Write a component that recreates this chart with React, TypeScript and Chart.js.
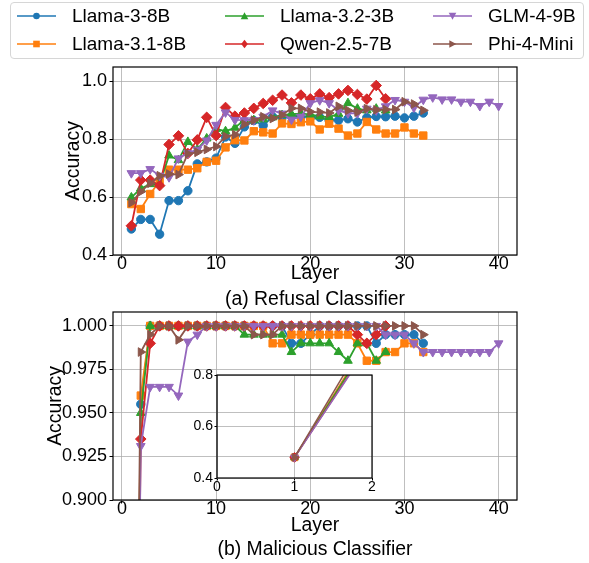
import React, { useEffect, useRef } from "react";
import { Chart, registerables } from "chart.js";
Chart.register(...registerables);

const FONT = "'Liberation Sans', Arial, sans-serif";

const models = ["Llama-3-8B", "Llama-3.1-8B", "Llama-3.2-3B", "Qwen-2.5-7B", "GLM-4-9B", "Phi-4-Mini"];
const colors = ["#1f77b4", "#ff7f0e", "#2ca02c", "#d62728", "#9467bd", "#8c564b"];

const xTicks = [0, 10, 20, 30, 40];
const refusalYTicks = [0.4, 0.6, 0.8, 1.0];
const maliciousYTicks = [0.9, 0.925, 0.95, 0.975, 1.0];
const insetXTicks = [0, 1, 2];
const insetYTicks = [0.4, 0.6, 0.8];

// (a) Refusal classifier accuracy per layer
const refusalLlama3 = [0.49, 0.523, 0.523, 0.472, 0.588, 0.588, 0.622, 0.715, 0.722, 0.735, 0.808, 0.786, 0.843, 0.865, 0.848, 0.878, 0.875, 0.878, 0.88, 0.875, 0.876, 0.866, 0.866, 0.871, 0.86, 0.875, 0.879, 0.878, 0.88, 0.874, 0.88, 0.891];
const refusalLlama31 = [0.576, 0.559, 0.611, 0.655, 0.695, 0.695, 0.695, 0.70, 0.722, 0.726, 0.772, 0.797, 0.796, 0.828, 0.824, 0.82, 0.855, 0.853, 0.859, 0.862, 0.834, 0.854, 0.837, 0.813, 0.82, 0.86, 0.834, 0.82, 0.82, 0.841, 0.82, 0.813];
const refusalLlama32 = [0.599, 0.63, 0.645, 0.645, 0.744, 0.728, 0.791, 0.765, 0.803, 0.836, 0.828, 0.84, 0.867, 0.866, 0.869, 0.876, 0.884, 0.887, 0.889, 0.886, 0.879, 0.877, 0.888, 0.925, 0.906, 0.90, 0.906, 0.90];
const refusalQwen = [0.501, 0.659, 0.659, 0.64, 0.782, 0.812, 0.751, 0.798, 0.876, 0.813, 0.91, 0.88, 0.891, 0.907, 0.924, 0.935, 0.953, 0.926, 0.953, 0.94, 0.957, 0.944, 0.957, 0.969, 0.955, 0.939, 0.986, 0.94];
const refusalGLM = [0.683, 0.683, 0.697, 0.674, 0.669, 0.734, 0.752, 0.764, 0.796, 0.85, 0.893, 0.867, 0.866, 0.866, 0.878, 0.9, 0.889, 0.868, 0.878, 0.925, 0.935, 0.925, 0.9, 0.89, 0.89, 0.906, 0.9, 0.914, 0.936, 0.93, 0.91, 0.937, 0.945, 0.938, 0.938, 0.93, 0.93, 0.915, 0.93, 0.915];
const refusalPhi = [0.581, 0.619, 0.648, 0.674, 0.68, 0.678, 0.75, 0.755, 0.765, 0.775, 0.81, 0.816, 0.852, 0.866, 0.878, 0.872, 0.884, 0.907, 0.907, 0.895, 0.894, 0.891, 0.914, 0.9, 0.894, 0.906, 0.902, 0.903, 0.903, 0.93, 0.922, 0.9];

// (b) Malicious classifier accuracy per layer
const maliciousLlama3 = [0.48, 0.955, 1.0, 1.0, 1.0, 1.0, 1.0, 1.0, 1.0, 1.0, 1.0, 1.0, 1.0, 1.0, 1.0, 1.0, 1.0, 0.99, 0.99, 0.995, 1.0, 1.0, 1.0, 1.0, 1.0, 1.0, 0.99, 0.995, 0.995, 0.995, 0.995, 0.99];
const maliciousLlama31 = [0.48, 0.96, 1.0, 1.0, 1.0, 1.0, 1.0, 1.0, 1.0, 1.0, 1.0, 1.0, 1.0, 1.0, 1.0, 0.99, 0.99, 0.995, 0.995, 0.995, 0.995, 0.995, 0.995, 0.995, 0.99, 0.98, 0.98, 0.985, 0.985, 0.99, 0.99, 0.985];
const maliciousLlama32 = [0.48, 0.95, 1.0, 1.0, 1.0, 1.0, 1.0, 1.0, 1.0, 1.0, 1.0, 1.0, 0.995, 0.995, 0.995, 0.995, 0.995, 0.985, 0.99, 0.99, 0.99, 0.99, 0.985, 0.98, 0.99, 0.99, 0.98, 0.985];
const maliciousQwen = [0.48, 0.935, 0.99, 1.0, 1.0, 1.0, 1.0, 1.0, 1.0, 1.0, 1.0, 1.0, 1.0, 1.0, 1.0, 1.0, 1.0, 1.0, 1.0, 1.0, 1.0, 1.0, 1.0, 1.0, 0.995, 0.99, 0.995, 1.0];
const maliciousGLM = [0.48, 0.931, 0.965, 0.965, 0.965, 0.96, 0.991, 0.995, 1.0, 1.0, 1.0, 1.0, 1.0, 1.0, 1.0, 1.0, 1.0, 1.0, 1.0, 1.0, 1.0, 1.0, 1.0, 1.0, 1.0, 1.0, 1.0, 0.995, 0.995, 0.995, 0.99, 0.985, 0.985, 0.985, 0.985, 0.985, 0.985, 0.985, 0.985, 0.99];
const maliciousPhi = [0.48, 0.985, 0.995, 1.0, 1.0, 0.992, 1.0, 1.0, 1.0, 1.0, 1.0, 1.0, 1.0, 0.995, 0.995, 0.995, 1.0, 1.0, 1.0, 1.0, 1.0, 1.0, 1.0, 1.0, 1.0, 1.0, 1.0, 1.0, 1.0, 1.0, 1.0, 0.995];

const refusalSeries = [refusalLlama3, refusalLlama31, refusalLlama32, refusalQwen, refusalGLM, refusalPhi];
const maliciousSeries = [maliciousLlama3, maliciousLlama31, maliciousLlama32, maliciousQwen, maliciousGLM, maliciousPhi];

const pointStyles = ["circle", "rect", "triangle", "rectRot", "triangle", "triangle"];
const pointRotations = [0, 0, 0, 0, 180, 90];
const pointRadii = [4.2, 5.2, 5, 5.3, 5, 5];

const GRID = "rgba(170,170,170,0.75)";

function makeDatasets(series: number[][], lw: number, scale: number) {
  return series.map((vals, i) => ({
    label: models[i],
    data: vals.map((v, j) => ({ x: j + 1, y: v })),
    borderColor: colors[i],
    backgroundColor: colors[i],
    pointBackgroundColor: colors[i],
    pointBorderColor: colors[i],
    pointStyle: pointStyles[i],
    pointRotation: pointRotations[i],
    pointRadius: pointRadii[i] * scale,
    pointBorderWidth: 1,
    borderWidth: lw,
    tension: 0,
    order: series.length - i,
  }));
}

function axis(o: any) {
  return {
    type: "linear",
    min: o.min,
    max: o.max,
    afterBuildTicks: (s: any) => {
      s.ticks = o.ticks.map((v: number) => ({ value: v }));
    },
    afterFit: (s: any) => {
      if (o.width !== undefined) s.width = o.width;
      if (o.height !== undefined) s.height = o.height;
    },
    ticks: {
      autoSkip: false,
      maxRotation: 0,
      color: "#000",
      padding: o.pad,
      font: { family: FONT, size: o.fontSize, lineHeight: o.lh ?? 1.2 },
      callback: (v: any) => Number(v).toFixed(o.dec),
    },
    grid: {
      display: true,
      color: GRID,
      lineWidth: 1,
      borderDash: [1.5, 2],
      drawTicks: true,
      tickLength: o.tl,
      tickColor: "#000",
      tickWidth: 1,
      tickBorderDash: [],
    },
    border: { display: false },
    title: o.title
      ? {
          display: true,
          text: o.title,
          color: "#000",
          font: { family: FONT, size: 19.4, lineHeight: o.titleLh ?? 1.2 },
          padding: o.titlePad,
        }
      : { display: false },
  };
}

const framePlugin = {
  id: "frame",
  afterDatasetsDraw(chart: any) {
    const { ctx, chartArea: a } = chart;
    ctx.save();
    ctx.strokeStyle = "#000";
    ctx.lineWidth = 1.2;
    ctx.setLineDash([]);
    ctx.strokeRect(a.left, a.top, a.right - a.left, a.bottom - a.top);
    ctx.restore();
  },
};

function baseOptions(padding: any, scales: any) {
  return {
    responsive: false,
    animation: false,
    devicePixelRatio: 1,
    events: [],
    layout: { padding },
    plugins: { legend: { display: false }, tooltip: { enabled: false }, title: { display: false } },
    scales,
  };
}

function LegendMarker({ i }: { i: number }) {
  const c = colors[i];
  const cx = 19.5;
  const cy = 10;
  let shape: any = null;
  if (i === 0) shape = <circle cx={cx} cy={cy} r={3.3} fill={c} />;
  if (i === 1) shape = <rect x={cx - 3.3} y={cy - 3.3} width={6.6} height={6.6} fill={c} />;
  if (i === 2) shape = <polygon points={`${cx},${cy - 3.8} ${cx - 3.8},${cy + 3.2} ${cx + 3.8},${cy + 3.2}`} fill={c} />;
  if (i === 3) shape = <polygon points={`${cx},${cy - 4.3} ${cx + 3.3},${cy} ${cx},${cy + 4.3} ${cx - 3.3},${cy}`} fill={c} />;
  if (i === 4) shape = <polygon points={`${cx},${cy + 3.8} ${cx - 3.8},${cy - 3.2} ${cx + 3.8},${cy - 3.2}`} fill={c} />;
  if (i === 5) shape = <polygon points={`${cx + 3.8},${cy} ${cx - 3.2},${cy - 3.8} ${cx - 3.2},${cy + 3.8}`} fill={c} />;
  return (
    <svg width={40} height={20} style={{ position: "absolute", left: 0, top: 0 }}>
      <line x1={0} y1={cy} x2={39} y2={cy} stroke={c} strokeWidth={1.6} />
      {shape}
    </svg>
  );
}

const legendColX = [17, 225, 433];
const legendRowY = [16, 44];

export default function App() {
  const topRef = useRef<HTMLCanvasElement>(null);
  const botRef = useRef<HTMLCanvasElement>(null);
  const insRef = useRef<HTMLCanvasElement>(null);

  useEffect(() => {
    const top = new Chart(topRef.current as HTMLCanvasElement, {
      type: "line",
      data: { datasets: makeDatasets(refusalSeries, 1.8, 1) as any },
      options: baseOptions(
        { top: 67, left: 0, right: 72, bottom: 250 },
        {
          x: axis({ min: -0.95, max: 41.95, ticks: xTicks, height: 58, pad: 0, tl: 3.5, fontSize: 18, lh: 0.6, dec: 0,
            title: ["Layer", "(a) Refusal Classifier"], titleLh: 1.34, titlePad: { top: 0, bottom: 0 } }),
          y: axis({ min: 0.4, max: 1.05, ticks: refusalYTicks, width: 113, pad: 2.5, tl: 3.5, fontSize: 18, dec: 1,
            title: "Accuracy", titlePad: { top: 62, bottom: 0 } }),
        }
      ) as any,
      plugins: [framePlugin],
    });
    const bot = new Chart(botRef.current as HTMLCanvasElement, {
      type: "line",
      data: { datasets: makeDatasets(maliciousSeries, 1.8, 1) as any },
      options: baseOptions(
        { top: 312, left: 0, right: 72, bottom: 0 },
        {
          x: axis({ min: -0.95, max: 41.95, ticks: xTicks, height: 63, pad: 0, tl: 3.5, fontSize: 18, lh: 0.6, dec: 0,
            title: ["Layer", "(b) Malicious Classifier"], titleLh: 1.2, titlePad: { top: 0, bottom: 2 } }),
          y: axis({ min: 0.9, max: 1.008, ticks: maliciousYTicks, width: 113, pad: 2.5, tl: 3.5, fontSize: 18, dec: 3,
            title: "Accuracy", titlePad: { top: 44, bottom: 0 } }),
        }
      ) as any,
      plugins: [framePlugin],
    });
    const ins = new Chart(insRef.current as HTMLCanvasElement, {
      type: "line",
      data: { datasets: makeDatasets(maliciousSeries, 1.5, 0.9) as any },
      options: baseOptions(
        { top: 375, left: 0, right: 217, bottom: 60 },
        {
          x: axis({ min: 0, max: 2, ticks: insetXTicks, height: 25, pad: 2, tl: 2.5, fontSize: 14, lh: 0.6, dec: 0 }),
          y: axis({ min: 0.4, max: 0.8, ticks: insetYTicks, width: 217, pad: 1.5, tl: 2.5, fontSize: 14, dec: 1 }),
        }
      ) as any,
      plugins: [framePlugin],
    });
    return () => {
      top.destroy();
      bot.destroy();
      ins.destroy();
    };
  }, []);

  const canvasStyle: any = { position: "absolute", left: 0, top: 0, width: 589, height: 563 };

  return (
    <div style={{ position: "fixed", left: 0, top: 0, width: 589, height: 563, background: "#fff", fontFamily: FONT, overflow: "hidden" }}>
      <canvas ref={topRef} width={589} height={563} style={canvasStyle} />
      <canvas ref={botRef} width={589} height={563} style={canvasStyle} />
      <canvas ref={insRef} width={589} height={563} style={canvasStyle} />
      <div
        style={{
          position: "absolute",
          left: 10,
          top: 2,
          width: 574,
          height: 57,
          boxSizing: "border-box",
          border: "1px solid #d6d6d6",
          borderRadius: 4,
          background: "rgba(255,255,255,0.8)",
        }}
      />
      {models.map((m, i) => {
        const col = Math.floor(i / 2);
        const row = i % 2;
        return (
          <div key={m} style={{ position: "absolute", left: legendColX[col], top: legendRowY[row] - 10, height: 20, width: 170 }}>
            <LegendMarker i={i} />
            <span style={{ position: "absolute", left: 55, top: -1, fontSize: 19, lineHeight: "22px", color: "#000", whiteSpace: "nowrap" }}>{m}</span>
          </div>
        );
      })}
    </div>
  );
}
